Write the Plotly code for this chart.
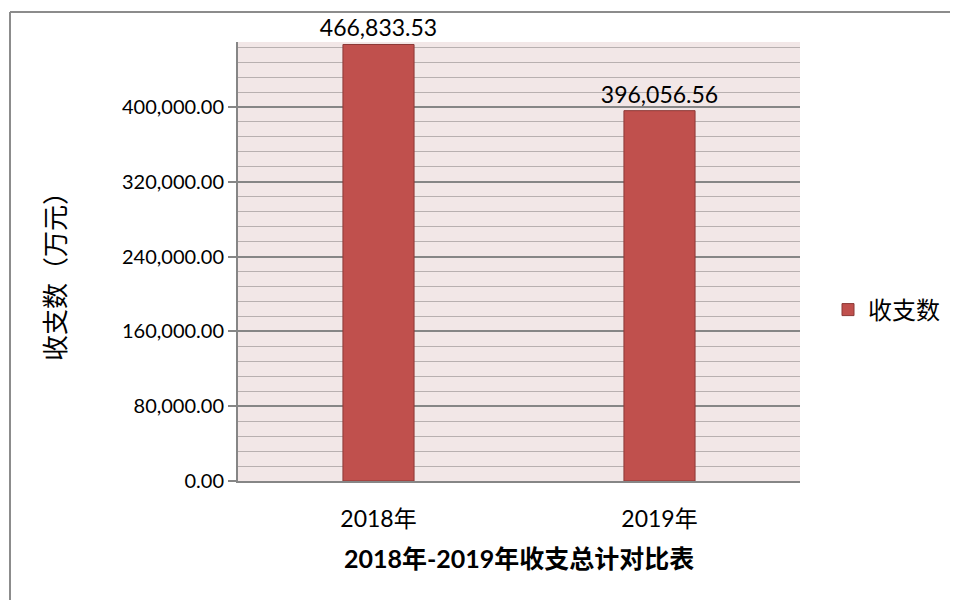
import plotly.graph_objects as go

categories = ["2018年", "2019年"]
values = [466833.53, 396056.56]
series_name = "收支数"
y_tick_vals = [0, 80000, 160000, 240000, 320000, 400000]
y_tick_text = ["0.00", "80,000.00", "160,000.00", "240,000.00", "320,000.00", "400,000.00"]
x_title = "2018年-2019年收支总计对比表"
y_title = "收支数（万元）"

OFF = 8  # page body margin
W, H = 958 - OFF, 600 - OFF
L, R, T, B = 238 - OFF, 958 - 800, 42 - OFF, 600 - 481
pw, ph = W - L - R, H - T - B

def px(x):
    return (x - OFF - L) / pw

def py(y):
    return (H - B - (y - OFF)) / ph

FONT = "Lato, 'Noto Sans CJK SC', sans-serif"

fig = go.Figure()
fig.add_trace(go.Bar(
    x=categories, y=values, name=series_name,
    marker=dict(color="#C0504D", line=dict(color="#8C3836", width=1)),
    text=[f"{v:,.2f}" for v in values], textposition="outside",
    textfont=dict(size=23, color="#000000", family=FONT),
    constraintext="none",
    cliponaxis=False,
))

fig.update_layout(
    width=W, height=H,
    margin=dict(l=L, r=R, t=T, b=B, autoexpand=False),
    paper_bgcolor="white", plot_bgcolor="#F2E7E7",
    bargap=0.747,
    showlegend=True,
    legend=dict(x=px(828), y=py(310), xanchor="left", yanchor="middle",
                font=dict(size=24, family=FONT, color="#000"),
                itemwidth=30, bgcolor="rgba(0,0,0,0)"),
    font=dict(family=FONT, color="#000"),
    xaxis=dict(
        showgrid=False, showline=True, linecolor="#868686", linewidth=2,
        ticks="", tickfont=dict(size=23, family=FONT),
        ticklabelstandoff=16,
    ),
    yaxis=dict(
        range=[0, 469500],
        tickvals=y_tick_vals, ticktext=y_tick_text,
        tickfont=dict(size=20, family=FONT),
        showgrid=True, gridcolor="#868686", gridwidth=1.5,
        showline=True, linecolor="#868686", linewidth=2,
        ticks="outside", ticklen=8, tickcolor="#868686", tickwidth=1.5,
        minor=dict(dtick=16000, tick0=0, showgrid=True, gridcolor="#B8B0B0", gridwidth=1),
        zeroline=False,
    ),
    annotations=[
        dict(text="<b>" + x_title + "</b>", xref="paper", yref="paper",
             x=px(519), y=py(558), xanchor="center", yanchor="middle",
             showarrow=False, font=dict(size=25, family=FONT, color="#000")),
        dict(text=y_title, xref="paper", yref="paper", textangle=-90,
             x=px(55), y=py(270), xanchor="center", yanchor="middle",
             showarrow=False, font=dict(size=26, family=FONT, color="#000")),
    ],
    shapes=[
        dict(type="line", xref="paper", yref="paper", x0=px(10), x1=px(10), y0=py(12), y1=py(600),
             line=dict(color="#8C8C8C", width=2)),
        dict(type="line", xref="paper", yref="paper", x0=px(10), x1=px(958), y0=py(12), y1=py(12),
             line=dict(color="#8C8C8C", width=2)),
    ],
)

fig.write_html("out.html")
